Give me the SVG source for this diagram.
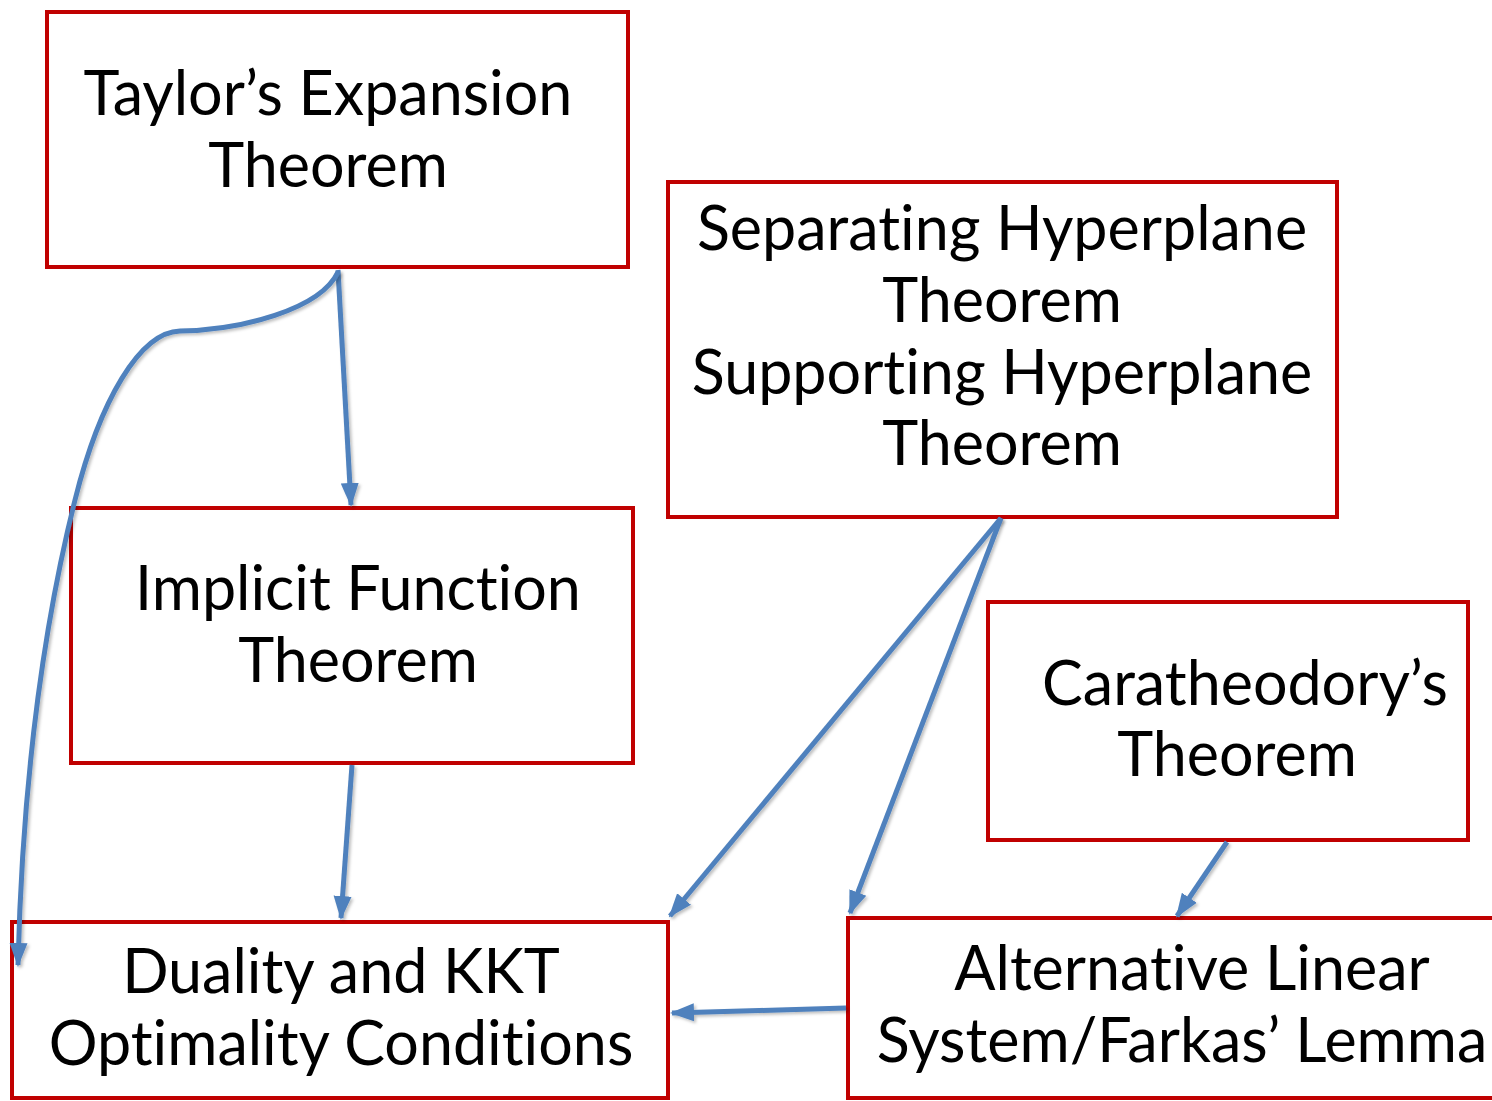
<svg xmlns="http://www.w3.org/2000/svg" width="1492" height="1101" viewBox="0 0 1492 1101">
<style>
.box{fill:#fff;stroke:#c00000;stroke-width:4}
.t{font-family:"Lato","Open Sans","Liberation Sans",sans-serif;font-size:61px;fill:#000;text-anchor:middle;font-variant-ligatures:none;font-feature-settings:"liga" 0,"clig" 0}
.c{fill:none;stroke:#4f81bd;stroke-width:5;filter:url(#sh)}
</style>
<defs>
<marker id="ah" markerUnits="userSpaceOnUse" markerWidth="24" markerHeight="24" viewBox="0 0 24 24" refX="22" refY="12" orient="auto">
<path d="M0,3 L24,12 L0,21 Z" fill="#4f81bd"/>
</marker>
<filter id="sh" filterUnits="userSpaceOnUse" x="0" y="0" width="1492" height="1101">
<feDropShadow dx="2" dy="2" stdDeviation="1.5" flood-color="#000" flood-opacity="0.25"/>
</filter>
</defs>
<rect width="1492" height="1101" fill="#fff"/>
<g id="taylor"><rect class="box" x="47" y="12" width="581" height="255"/>
<text class="t" x="328" y="115">Taylor’s Expansion</text><text class="t" x="328" y="187">Theorem</text></g>
<g id="separating"><rect class="box" x="668" y="182" width="669" height="335"/>
<text class="t" x="1002" y="250">Separating Hyperplane</text><text class="t" x="1002" y="322">Theorem</text>
<text class="t" x="1002" y="394">Supporting Hyperplane</text><text class="t" x="1002" y="465">Theorem</text></g>
<g id="implicit"><rect class="box" x="71" y="508" width="562" height="255"/>
<text class="t" x="358" y="610">Implicit Function</text><text class="t" x="358" y="682">Theorem</text></g>
<g id="caratheodory"><rect class="box" x="988" y="602" width="480" height="238"/>
<text class="t" x="1245" y="705">Caratheodory’s</text><text class="t" x="1237" y="776">Theorem</text></g>
<g id="duality"><rect class="box" x="12" y="922" width="656" height="176"/>
<text class="t" x="341" y="993">Duality and KKT</text><text class="t" x="341" y="1065">Optimality Conditions</text></g>
<g id="alternative"><rect class="box" x="848" y="918" width="660" height="180"/>
<text class="t" x="1192" y="990">Alternative Linear</text><text class="t" x="1182" y="1062">System/Farkas’ Lemma</text></g>
<g id="connectors">
<path class="c" d="M338,270 L351,505" marker-end="url(#ah)"/>
<path class="c" d="M338,272 C320,310 240,330 180,331 C140,332 100,400 75,500 C40,640 22,800 18,965" marker-end="url(#ah)"/>
<path class="c" d="M352,765 L341,918" marker-end="url(#ah)"/>
<path class="c" d="M1001,518 L670,916" marker-end="url(#ah)"/>
<path class="c" d="M1001,518 L850,913" marker-end="url(#ah)"/>
<path class="c" d="M1227,842 L1177,916" marker-end="url(#ah)"/>
<path class="c" d="M846,1008 L672,1013" marker-end="url(#ah)"/>
</g>
</svg>
